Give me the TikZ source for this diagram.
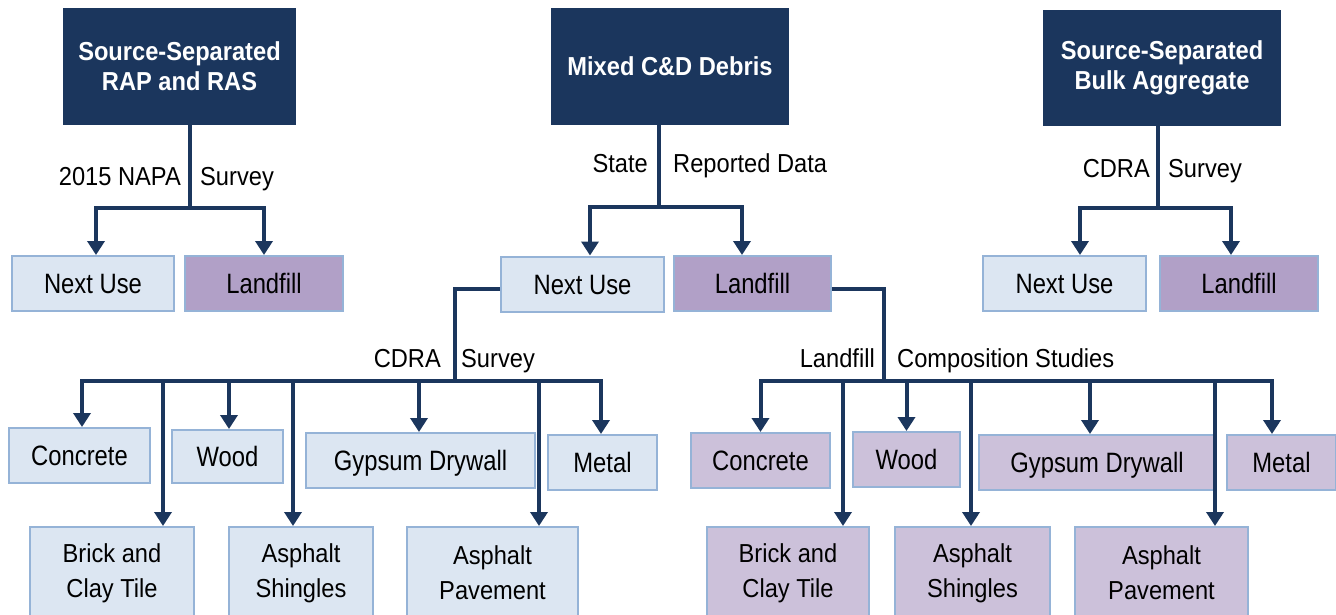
\documentclass[tikz,border=0pt]{standalone}
\usepackage{fontspec}
\setmainfont[FakeStretch=0.91]{Liberation Sans}
\newfontfamily\narrowfont[FakeStretch=0.85]{Liberation Sans}
\usepackage{xcolor}
\usetikzlibrary{arrows.meta,positioning}
\definecolor{navy}{RGB}{27,54,93}
\definecolor{usefill}{RGB}{220,230,242}
\definecolor{landfillpurple}{RGB}{177,160,199}
\definecolor{lightpurple}{RGB}{204,193,218}
\definecolor{edgeblue}{RGB}{149,179,215}

\begin{document}
\begin{tikzpicture}[x=1pt,y=-1pt,
	srcbox/.style={fill=navy,text=white,font=\fontsize{26}{30}\selectfont\bfseries,align=center,inner sep=0pt},
	catbox/.style={draw=edgeblue,line width=2pt,inner sep=0pt,minimum height=55pt,font=\narrowfont\fontsize{28}{35}\selectfont,text height=20pt,text depth=0pt},
	usebox/.style={catbox,fill=usefill},
	lfbox/.style={catbox,fill=landfillpurple},
	matbox/.style={catbox,fill=lightpurple},
	tallbox/.style={draw=edgeblue,line width=2pt,inner sep=0pt,minimum height=92pt,align=center,font=\fontsize{26}{35}\selectfont},
	lbl/.style={font=\fontsize{26}{30}\selectfont,inner sep=0pt},
	link/.style={navy,line width=4pt},
	arr/.style={link,-{Triangle[width=17pt,length=14pt]}}]
	\clip (0,0) rectangle (1336,614);
	\fill[white] (0,0) rectangle (1336,614);
	% sources
	\node[srcbox,minimum width=233pt,minimum height=117pt] (rap) at (179.5,66.5) {Source-Separated\\RAP and RAS};
	\node[srcbox,minimum width=238pt,minimum height=117pt] (mixed) at (670,66.5) {Mixed C\&D Debris};
	\node[srcbox,minimum width=238pt,minimum height=116pt] (bulk) at (1162,68) {Source-Separated\\Bulk Aggregate};
	% next use / landfill
	\node[usebox,minimum width=162pt] (next1) at (93,283.5) {Next Use};
	\node[lfbox,minimum width=158pt] (land1) at (264,283.5) {Landfill};
	\node[usebox,minimum width=163pt] (next2) at (582.5,284) {Next Use};
	\node[lfbox,minimum width=157pt] (land2) at (752.5,283.5) {Landfill};
	\node[usebox,minimum width=163pt] (next3) at (1064.5,283.5) {Next Use};
	\node[lfbox,minimum width=158pt] (land3) at (1239,283.5) {Landfill};
	% materials, next use
	\node[usebox,minimum width=141pt] (conc1) at (79.5,455.5) {Concrete};
	\node[usebox,minimum width=111pt,minimum height=53pt] (wood1) at (227.5,456.5) {Wood};
	\node[usebox,minimum width=229pt] (gyp1) at (420.5,460.5) {Gypsum Drywall};
	\node[usebox,minimum width=109pt] (metal1) at (602.5,462.5) {Metal};
	\node[tallbox,fill=usefill,minimum width=164pt] (brick1) at (112,573) {Brick and\\Clay Tile};
	\node[tallbox,fill=usefill,minimum width=144pt] (shing1) at (301,573) {Asphalt\\Shingles};
	\node[tallbox,fill=usefill,minimum width=171pt] (pave1) at (492.5,573) {Asphalt\\Pavement};
	% materials, landfill
	\node[matbox,minimum width=139pt] (conc2) at (760.5,460.5) {Concrete};
	\node[matbox,minimum width=107pt] (wood2) at (906.5,459.5) {Wood};
	\node[matbox,minimum width=236pt] (gyp2) at (1097,462.5) {Gypsum Drywall};
	\node[matbox,minimum width=109pt] (metal2) at (1281.5,462.5) {Metal};
	\node[tallbox,fill=lightpurple,minimum width=162pt] (brick2) at (788,573) {Brick and\\Clay Tile};
	\node[tallbox,fill=lightpurple,minimum width=155pt] (shing2) at (972.5,573) {Asphalt\\Shingles};
	\node[tallbox,fill=lightpurple,minimum width=173pt] (pave2) at (1161.5,573) {Asphalt\\Pavement};
	% labels
	\node[lbl,anchor=base east] (napa) at (181,185) {2015 NAPA};
	\node[lbl,anchor=base west] (napasurvey) at (200,185) {Survey};
	\node[lbl,anchor=base east] (state) at (648,172) {State};
	\node[lbl,anchor=base west] (reported) at (673,172) {Reported Data};
	\node[lbl,anchor=base east] (cdra) at (1150,177) {CDRA};
	\node[lbl,anchor=base west] (cdrasurvey) at (1168,177) {Survey};
	\node[lbl,anchor=base east] (cdrab) at (441,367) {CDRA};
	\node[lbl,anchor=base west] (cdrabsurvey) at (461,367) {Survey};
	\node[lbl,anchor=base east] (lfstudy) at (875,367) {Landfill};
	\node[lbl,anchor=base west] (composition) at (897,367) {Composition Studies};
	% top branches
	\coordinate (busA) at (190,208);
	\coordinate (busB) at (659,207);
	\coordinate (busC) at (1158,208);
	\draw[link] (rap.south -| busA) -- (busA);
	\draw[arr] (busA) -| ([xshift=3pt]next1.north);
	\draw[arr] (busA) -| (land1.north);
	\draw[link] (mixed.south -| busB) -- (busB);
	\draw[arr] (busB) -| ([xshift=7.5pt]next2.north);
	\draw[arr] (busB) -| ([xshift=-10.5pt]land2.north);
	\draw[link] (bulk.south -| busC) -- (busC);
	\draw[arr] (busC) -| ([xshift=15.5pt]next3.north);
	\draw[arr] (busC) -| ([xshift=-8pt]land3.north);
	% next use materials
	\coordinate (busL) at (455,381);
	\draw[link] ([yshift=-5pt]next2.west) -| (busL);
	\draw[arr] (busL) -| ([xshift=2.5pt]conc1.north);
	\draw[arr] (busL) -| ([xshift=51pt]brick1.north);
	\draw[arr] (busL) -| ([xshift=1.5pt]wood1.north);
	\draw[arr] (busL) -| ([xshift=-8pt]shing1.north);
	\draw[arr] (busL) -| ([xshift=-1.5pt]gyp1.north);
	\draw[arr] (busL) -| ([xshift=46.5pt]pave1.north);
	\draw[arr] (busL) -| ([xshift=-1.5pt]metal1.north);
	% landfill materials
	\coordinate (busR) at (884,381);
	\draw[link] ([yshift=-5pt]land2.east) -| (busR);
	\draw[arr] (busR) -| (conc2.north);
	\draw[arr] (busR) -| ([xshift=55pt]brick2.north);
	\draw[arr] (busR) -| (wood2.north);
	\draw[arr] (busR) -| ([xshift=-1.5pt]shing2.north);
	\draw[arr] (busR) -| ([xshift=-7pt]gyp2.north);
	\draw[arr] (busR) -| ([xshift=53.5pt]pave2.north);
	\draw[arr] (busR) -| ([xshift=-9.5pt]metal2.north);
\end{tikzpicture}
\end{document}
